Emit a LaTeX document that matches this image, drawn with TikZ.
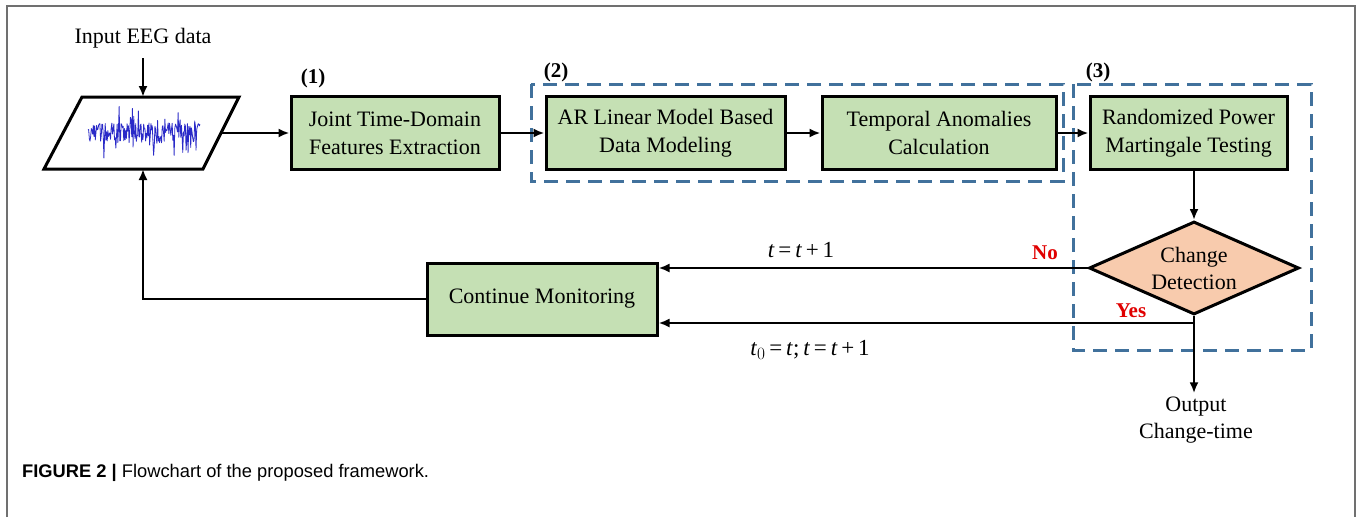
\documentclass[tikz,border=0pt]{standalone}
\usepackage{fontspec}
\setmainfont{Liberation Serif}
\newfontfamily\capfont{Liberation Sans}
\usetikzlibrary{shapes.geometric,arrows.meta}
\definecolor{boxgreen}{HTML}{C5E0B4}
\definecolor{diapeach}{HTML}{F8CBAD}
\definecolor{dashblue}{HTML}{41719C}
\definecolor{framegray}{HTML}{707070}
\definecolor{eegblue}{HTML}{2A2AC8}
\definecolor{labred}{HTML}{E00000}
\tikzset{
  procbox/.style={draw=black, line width=3pt, fill=boxgreen, align=center, inner sep=0pt, minimum height=73pt, font=\fontsize{22}{28}\selectfont},
  conn/.style={line width=2.4pt, -{Latex[length=11pt,width=9pt]}},
  groupbox/.style={draw=dashblue, line width=3pt, dash pattern=on 14pt off 8pt},
  grouplabel/.style={font=\fontsize{21}{24}\selectfont\bfseries},
  answer/.style={text=labred, font=\fontsize{21}{24}\selectfont\bfseries},
  plaintext/.style={font=\fontsize{22}{27}\selectfont, align=center},
}
\begin{document}
\begin{tikzpicture}[x=1pt,y=-1pt]
\useasboundingbox (0,0) rectangle (1359,517);
% frame
\draw[framegray, line width=2pt] (7,517) -- (7,6) -- (1355,6) -- (1355,517);
% group boxes
\draw[groupbox] (531,84) rectangle (1063,181);
\draw[groupbox] (1073,84) rectangle (1311,350);
\node[grouplabel] (l1) at (313,78) {(1)};
\node[grouplabel] (l2) at (556,72) {(2)};
\node[grouplabel] (l3) at (1098,72) {(3)};
% input
\node[plaintext] (inlab) at (143,38) {Input EEG data};
\draw[line width=3pt, fill=white] (82,97) -- (239,97) -- (203,169) -- (44,169) -- cycle;
\node[minimum width=195pt, minimum height=72pt, inner sep=0pt] (inp) at (141.5,133) {};
\coordinate (inpR) at (221,133);
\coordinate (inpT) at (143,97);
\coordinate (inpB) at (143,169);
\pgfmathsetseed{11}
\draw[eegblue, line width=0.8pt, line join=round] plot[domain=88:200, samples=170] (\x,{133+10*rand+(abs(rand)>0.72 ? 20*rand : 0)});
% boxes
\node[procbox, minimum width=208pt] (b1) at (395,133) {Joint Time-Domain\\Features Extraction};
\node[procbox, minimum width=239pt] (b2) at (665.5,133) {AR Linear Model Based\\Data Modeling};
\node[procbox, minimum width=234pt] (b3) at (939,133) {Temporal Anomalies\\Calculation};
\node[procbox, minimum width=197pt] (b4) at (1188.5,133) {Randomized Power\\Martingale Testing};
\node[diamond, draw=black, line width=3pt, fill=diapeach, minimum width=210pt, minimum height=93pt, inner sep=0pt] (dia) at (1194,268) {};
\node[plaintext] (diatext) at (dia) {Change\\Detection};
\node[procbox, minimum width=230pt, minimum height=72pt] (cm) at (542,299) {Continue Monitoring};
\node[plaintext] (out) at (1196,420) {Output\\Change-time};
% connectors
\draw[conn] (inlab.south |- 0,58) -- (inpT);
\draw[conn] (inpR) -- (b1.west);
\draw[conn] (b1.east) -- (b2.west);
\draw[conn] (b2.east) -- (b3.west);
\draw[conn] (b3.east) -- (b4.west);
\draw[conn] (dia.north |- b4.south) -- (dia.north);
\draw[conn] (dia.west) -- (cm.east |- dia.west);
\coordinate (yesc) at (1194,323);
\draw[conn] (yesc) -- (cm.east |- yesc);
\draw[conn] (dia.south) -- (out.north -| dia.south);
\draw[conn] (cm.west) -- (143,299) -- (inpB);
% labels
\node[answer] (no) at (1045,253) {No};
\node[answer] (yes) at (1131,311) {Yes};
\node[font=\fontsize{23}{27}\selectfont] (tl1) at (801,250) {\textit{t}\,=\,\textit{t}\,+\,1};
\node[font=\fontsize{23}{27}\selectfont] (tl2) at (810,350) {\textit{t}$_{\scriptstyle 0}$\,=\,\textit{t};\,\textit{t}\,=\,\textit{t}\,+\,1};
% caption
\node[anchor=base west, inner sep=0pt, font=\capfont\fontsize{18.3}{20}\selectfont] (cap) at (22,477) {\textbf{FIGURE 2 |} Flowchart of the proposed framework.};
\end{tikzpicture}
\end{document}
